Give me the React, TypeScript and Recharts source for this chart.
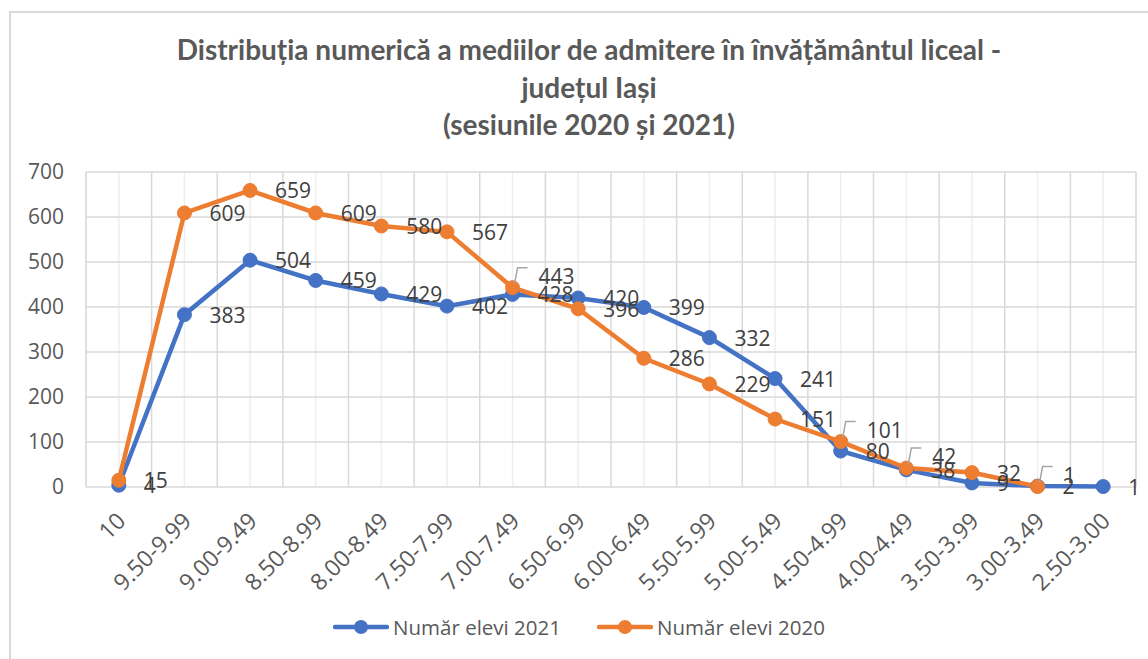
import React from 'react';
import { LineChart, Line, XAxis, YAxis, CartesianGrid, Legend } from 'recharts';

const categories = ['10', '9.50-9.99', '9.00-9.49', '8.50-8.99', '8.00-8.49', '7.50-7.99', '7.00-7.49', '6.50-6.99', '6.00-6.49', '5.50-5.99', '5.00-5.49', '4.50-4.99', '4.00-4.49', '3.50-3.99', '3.00-3.49', '2.50-3.00'];
const elevi2021 = [4, 383, 504, 459, 429, 402, 428, 420, 399, 332, 241, 80, 38, 9, 2, 1];
const elevi2020: (number | null)[] = [15, 609, 659, 609, 580, 567, 443, 396, 286, 229, 151, 101, 42, 32, 1, null];
const yTicks = [0, 100, 200, 300, 400, 500, 600, 700];
const titleLines = ['Distribuția numerică a mediilor de admitere în învățământul liceal -', 'județul Iași', '(sesiunile 2020 și 2021)'];
const seriesNames = { y2021: 'Număr elevi 2021', y2020: 'Număr elevi 2020' };

const data = categories.map((c, i) => ({ cat: c, y2021: elevi2021[i], y2020: elevi2020[i] }));

const BLUE = '#4472C4';
const ORANGE = '#ED7D31';
const TXT = '#595959';
const LBL = '#404040';
const FONT = '"Open Sans", "Noto Sans", sans-serif';

const leaderIdx2020 = [6, 11, 12, 14];

const makeLabel = (series: 'y2021' | 'y2020') => (props: any) => {
  const { x, y, value, index } = props;
  if (value == null || x == null || y == null) return null;
  const leader = series === 'y2020' && leaderIdx2020.includes(index);
  if (leader) {
    const ly = y - 12;
    return (
      <g>
        <path d={`M${x + 2},${y - 4} L${x + 5},${ly - 8} L${x + 15},${ly - 8}`} stroke="#a6a6a6" strokeWidth={1.5} fill="none" />
        <text x={x + 26} y={ly} fontSize={21} fill={LBL} fontFamily={FONT} dominantBaseline="central">{value}</text>
      </g>
    );
  }
  return (
    <text x={x + 25} y={y} fontSize={21} fill={LBL} fontFamily={FONT} dominantBaseline="central">{value}</text>
  );
};

const XTick = (props: any) => {
  const { x, y, payload } = props;
  const ax = x + 2;
  const ay = y + 21;
  return (
    <text x={ax} y={ay} transform={`rotate(-45, ${ax}, ${ay})`} textAnchor="end" fontSize={23} fill={TXT} fontFamily={FONT} dominantBaseline="central">
      {payload.value}
    </text>
  );
};

const LegendContent = () => (
  <div style={{ display: 'flex', justifyContent: 'center', alignItems: 'center', height: 40, paddingLeft: 22, fontFamily: FONT, fontSize: 20.5, color: TXT }}>
    {[
      { key: 'y2021', color: BLUE },
      { key: 'y2020', color: ORANGE },
    ].map((s, i) => (
      <div key={s.key} style={{ display: 'flex', alignItems: 'center', marginLeft: i === 0 ? 0 : 36 }}>
        <svg width={56} height={20} style={{ marginRight: 4 }}>
          <line x1={2} y1={10} x2={54} y2={10} stroke={s.color} strokeWidth={4.5} strokeLinecap="round" />
          <circle cx={28} cy={10} r={7} fill={s.color} />
        </svg>
        <span>{(seriesNames as any)[s.key]}</span>
      </div>
    ))}
  </div>
);

export default function App() {
  return (
    <div style={{ position: 'absolute', left: 0, top: 0, width: 1148, height: 659, background: '#fff' }}>
      <div style={{ position: 'absolute', left: 9, top: 11, right: 0, bottom: 0, borderLeft: '2px solid #d9d9d9', borderTop: '2px solid #d9d9d9' }} />
      <div style={{ position: 'absolute', left: 100, width: 978, top: 31, textAlign: 'center', fontFamily: 'Lato, "Open Sans", sans-serif', fontWeight: 700, fontSize: 28, lineHeight: '37.5px', color: TXT }}>
        {titleLines.map((t, i) => (<div key={i}>{t}</div>))}
      </div>
      <div style={{ position: 'absolute', left: 0, top: 0 }}>
        <LineChart width={1148} height={659} data={data} margin={{ top: 172, right: 12, left: 0, bottom: 12 }}>
          <CartesianGrid horizontal={false} vertical={true} stroke="#eeeeee" strokeWidth={1.5} />
          <CartesianGrid
            horizontal={true}
            vertical={true}
            stroke="#d9d9d9"
            strokeWidth={1.5}
            verticalCoordinatesGenerator={({ offset }: any) =>
              Array.from({ length: categories.length + 1 }, (_, i) => offset.left + (i * offset.width) / categories.length)
            }
          />
          <XAxis dataKey="cat" scale="band" interval={0} height={120} axisLine={false} tickLine={false} tick={<XTick />} />
          <YAxis
            width={86}
            domain={[0, 700]}
            ticks={yTicks}
            axisLine={false}
            tickLine={false}
            tickMargin={16}
            tick={{ fill: TXT, fontSize: 21, fontFamily: FONT }}
          />
          <Legend verticalAlign="bottom" height={40} content={<LegendContent />} />
          <Line
            type="linear"
            dataKey="y2021"
            name={seriesNames.y2021}
            stroke={BLUE}
            strokeWidth={4.5}
            dot={{ r: 7, fill: BLUE, stroke: BLUE, strokeWidth: 1 }}
            activeDot={false}
            isAnimationActive={false}
            label={makeLabel('y2021')}
          />
          <Line
            type="linear"
            dataKey="y2020"
            name={seriesNames.y2020}
            stroke={ORANGE}
            strokeWidth={4.5}
            dot={{ r: 7, fill: ORANGE, stroke: ORANGE, strokeWidth: 1 }}
            activeDot={false}
            isAnimationActive={false}
            label={makeLabel('y2020')}
          />
        </LineChart>
      </div>
    </div>
  );
}
